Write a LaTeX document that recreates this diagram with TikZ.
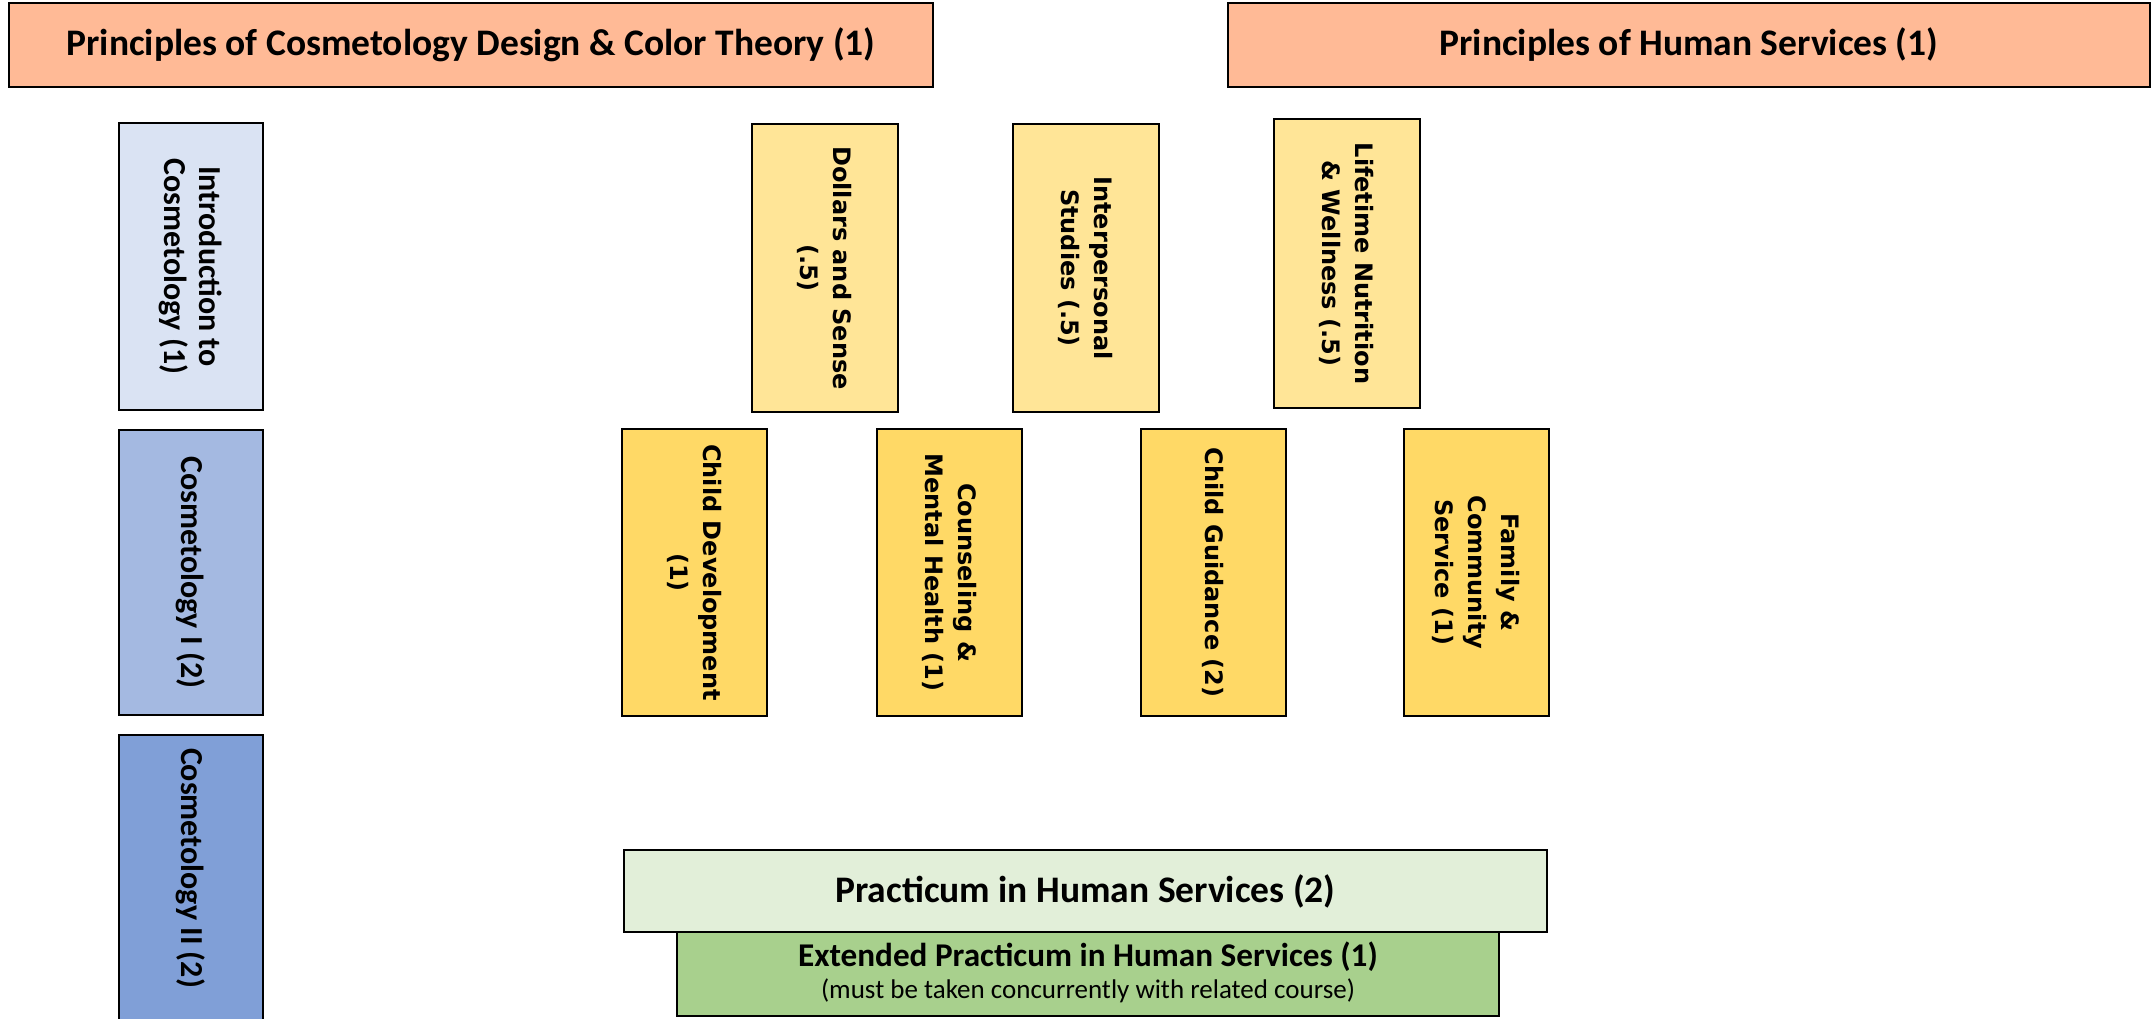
\documentclass[tikz,border=0pt]{standalone}
\usepackage{fontspec}
\newfontfamily\calfont{Carlito}
\newfontfamily\verfont{DejaVu Sans}
\definecolor{salmon}{HTML}{FFBA96}
\definecolor{blueA}{HTML}{DAE3F3}
\definecolor{blueB}{HTML}{A4B9E1}
\definecolor{blueC}{HTML}{809FD7}
\definecolor{yelA}{HTML}{FFE597}
\definecolor{yelB}{HTML}{FFD966}
\definecolor{grnA}{HTML}{E2EFD9}
\definecolor{grnB}{HTML}{A8D08D}
\tikzset{
  boxbase/.style={draw=black, line width=2.4pt, inner sep=0pt, align=center},
  titlebox/.style={boxbase, fill=salmon, font=\calfont\bfseries\fontsize{37.5}{45}\selectfont},
  bluebox/.style={boxbase, rotate=-90, font=\calfont\bfseries\fontsize{32}{35}\selectfont},
  yelbox/.style={boxbase, rotate=-90, font=\verfont\bfseries\fontsize{24}{33}\selectfont},
  rotbox/.style args={#1x#2}{minimum width=#2pt, minimum height=#1pt}
}
\begin{document}
\begin{tikzpicture}[x=1pt,y=-1pt]
\useasboundingbox[fill=white] (0,0) rectangle (2152,1019);
% titles
\node[titlebox, minimum width=924pt, minimum height=84pt] (t1) at (471,45) {Principles of Cosmetology Design \& Color Theory (1)};
\node[titlebox, minimum width=922pt, minimum height=84pt] (t2) at (1689,45) {Principles of Human Services (1)};
% blue column
\node[bluebox, fill=blueA, rotbox=144x287] (intro) at (191,266.5) {Introduction to\\Cosmetology (1)};
\node[bluebox, fill=blueB, rotbox=144x285] (cos1) at (191,572.5) {Cosmetology I (2)};
\node[boxbase, fill=blueC, minimum width=144pt, minimum height=295pt] (cos2) at (191,882.5) {};
\node[rotate=-90, inner sep=0pt, font=\calfont\bfseries\fontsize{32}{35}\selectfont] (cos2t) at (191,868) {Cosmetology II (2)};
% yellow row 1
\node[yelbox, fill=yelA, rotbox=146x288] (dollars) at (825,268) {Dollars and Sense\\(.5)};
\node[yelbox, fill=yelA, rotbox=146x288] (inter) at (1086,268) {Interpersonal\\Studies (.5)};
\node[yelbox, fill=yelA, rotbox=146x289] (life) at (1347,263.5) {Lifetime Nutrition\\\& Wellness (.5)};
% yellow row 2
\node[yelbox, fill=yelB, rotbox=145x287] (chdev) at (694.5,572.5) {Child Development\\(1)};
\node[yelbox, fill=yelB, rotbox=145x287] (couns) at (949.5,572.5) {Counseling \&\\Mental Health (1)};
\node[yelbox, fill=yelB, rotbox=145x287] (guid) at (1213.5,572.5) {Child Guidance (2)};
\node[yelbox, fill=yelB, rotbox=145x287] (family) at (1476.5,572.5) {Family \&\\Community\\Service (1)};
% practicum
\node[boxbase, fill=grnA, minimum width=923pt, minimum height=82pt, font=\calfont\bfseries\fontsize{37.5}{45}\selectfont] (prac) at (1085.5,891) {Practicum in Human Services (2)};
\node[boxbase, fill=grnB, minimum width=822pt, minimum height=84pt] (ext) at (1088,974) {};
\node[inner sep=0pt, font=\calfont\bfseries\fontsize{33.2}{40}\selectfont] (extt) at (1088,957) {Extended Practicum in Human Services (1)};
\node[inner sep=0pt, font=\calfont\fontsize{27}{32}\selectfont] (exts) at (1088,991) {(must be taken concurrently with related course)};
\end{tikzpicture}
\end{document}
